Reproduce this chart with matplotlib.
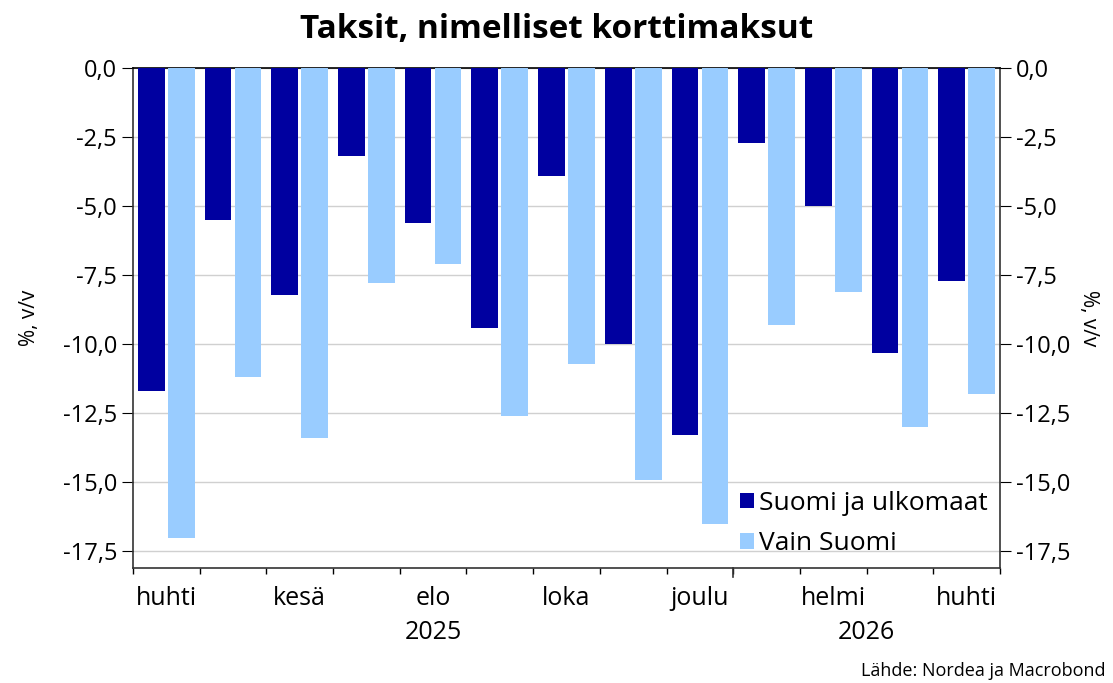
import numpy as np
import matplotlib.pyplot as plt
from matplotlib.ticker import FuncFormatter
import matplotlib.transforms as mtransforms

plt.rcParams['font.family'] = ['Open Sans', 'DejaVu Sans']

# kuukaudet huhti 2025 - huhti 2026
months = ['huhti', 'touko', 'kesä', 'heinä', 'elo', 'syys', 'loka',
          'marras', 'joulu', 'tammi', 'helmi', 'maalis', 'huhti']
years = ['2025', '2026']
suomi_ulkomaat = [-11.7, -5.5, -8.2, -3.2, -5.6, -9.4, -3.9,
                  -10.0, -13.3, -2.7, -5.0, -10.3, -7.7]
vain_suomi = [-17.0, -11.2, -13.4, -7.8, -7.1, -12.6, -10.7,
              -14.9, -16.5, -9.3, -8.1, -13.0, -11.8]

darkBlue = '#0000A0'
lightBlue = '#99CCFF'

fig = plt.figure(figsize=(11.13, 6.83), dpi=100)
ax = fig.add_axes([0.1195, 0.1684, 0.779, 0.732])

x = np.arange(len(months))
w = 0.40
ax.bar(x + 0.275, suomi_ulkomaat, width=w, color=darkBlue, label='Suomi ja ulkomaat', zorder=3)
ax.bar(x + 0.725, vain_suomi, width=w, color=lightBlue, label='Vain Suomi', zorder=3)

ax.set_xlim(0, len(months))
ax.set_ylim(-18.1, 0)
ax.set_yticks(np.arange(0, -17.6, -2.5))
ax.yaxis.set_major_formatter(FuncFormatter(lambda v, p: ('%.1f' % v).replace('.', ',').replace('-0,0', '0,0')))
ax.grid(axis='y', color='#d0d0d0', linewidth=1, zorder=0)

# kuukausien rajat pieninä tikkeinä, nimet joka toiselle kuukaudelle
ax.set_xticks(np.arange(0, len(months) + 1), minor=True)
ax.set_xticks(x[::2] + 0.5)
ax.set_xticklabels(months[::2])
ax.tick_params(axis='x', which='major', length=0, labelsize=18, pad=13)
ax.tick_params(axis='x', which='minor', length=4, width=1)
ax.tick_params(axis='y', which='major', length=8, labelsize=17, left=True, right=True,
               labelleft=True, labelright=True, direction='out')
# vuoden vaihteen tikki pidempi
trans = mtransforms.blended_transform_factory(ax.transData, ax.transAxes)
ax.plot([9, 9], [0, -0.018], transform=trans, color='#333333', lw=1.2, clip_on=False)

for sp in ax.spines.values():
    sp.set_color('#333333')
    sp.set_linewidth(1.2)
ax.spines['top'].set_color('black')

ax.text(4.5, -0.13, years[0], transform=trans, ha='center', va='center', fontsize=18)
ax.text(11.0, -0.13, years[1], transform=trans, ha='center', va='center', fontsize=18)

# akselien otsikot
ymid = 0.1684 + 0.732 / 2
fig.text(30 / 1113, ymid, '%, v/v', rotation=90, ha='center', va='center', fontsize=15)
fig.text(1089 / 1113, ymid, '%, v/v', rotation=270, ha='center', va='center', fontsize=15)

fig.text(0.5, 1 - 30 / 683, 'Taksit, nimelliset korttimaksut', ha='center', va='center',
         fontsize=24, fontweight='bold')

ax.legend(loc='lower right', bbox_to_anchor=(1.0, 0.0), frameon=False, fontsize=19,
          handlelength=0.55, handleheight=0.55, handletextpad=0.2, labelspacing=0.58,
          borderaxespad=0.05)

fig.text(0.993, 0.005, 'Lähde: Nordea ja Macrobond', ha='right', va='bottom', fontsize=13)

fig.savefig('out.png', dpi=100)
